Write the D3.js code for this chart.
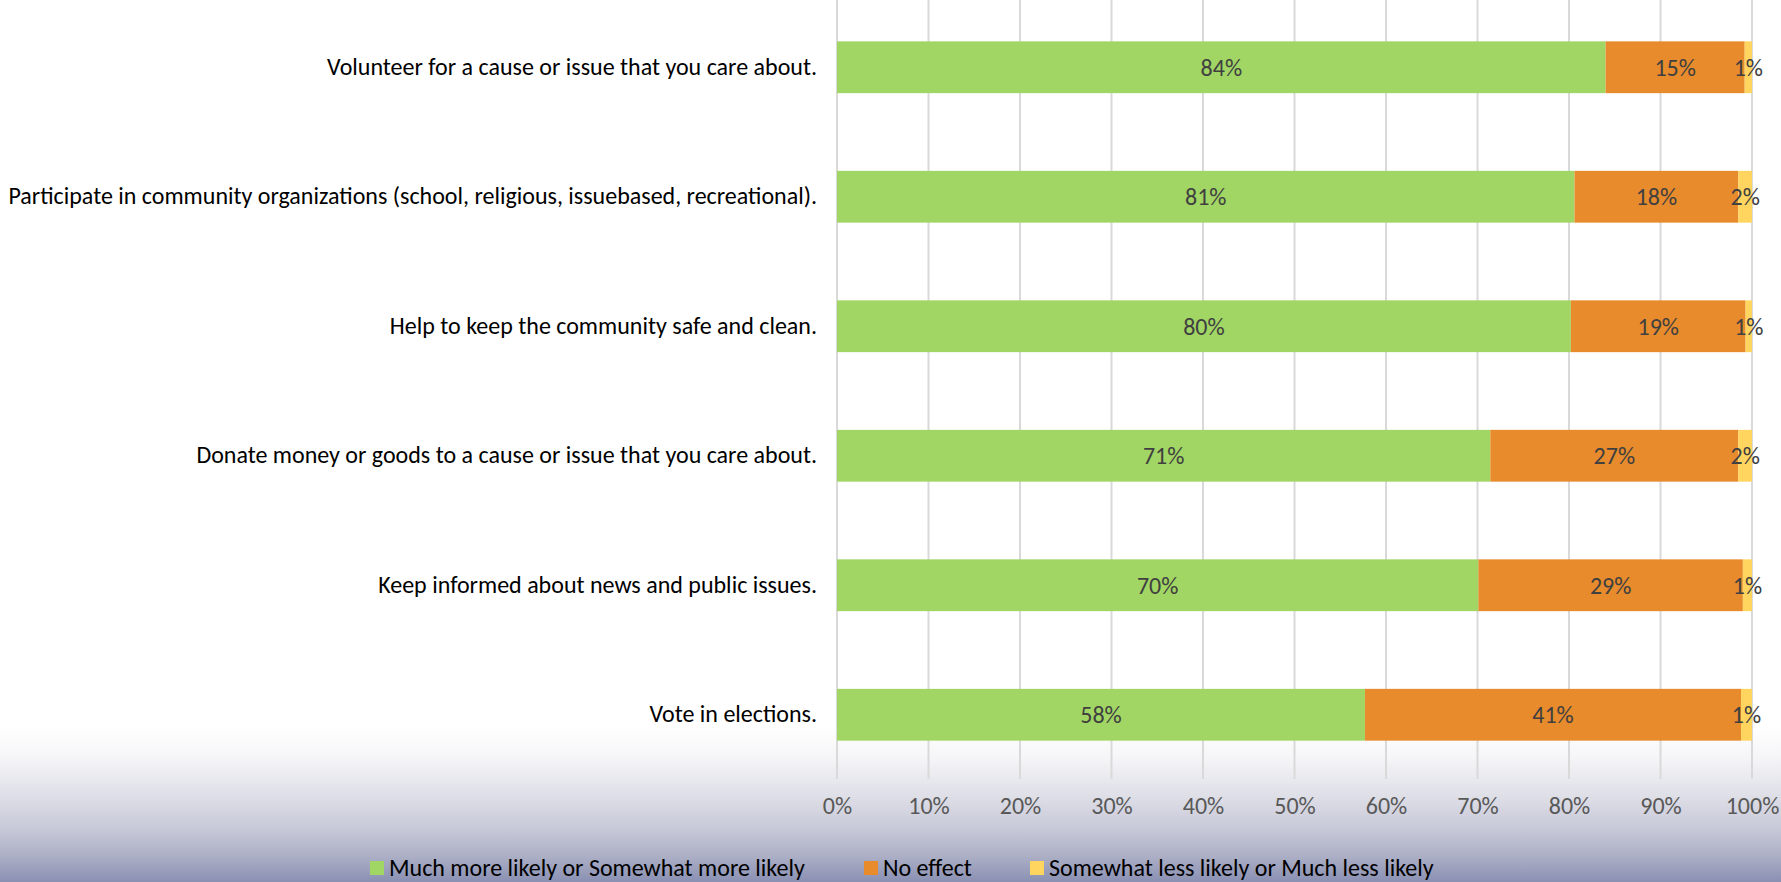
<!DOCTYPE html>
<html><head><meta charset="utf-8">
<script src="https://cdn.jsdelivr.net/npm/d3@7"></script>
<style>html,body{margin:0;padding:0;background:#fff;}svg{display:block;}</style>
</head><body>
<svg id="chart" width="1781" height="882"></svg>
<script>
const categories = [
  "Volunteer for a cause or issue that you care about.",
  "Participate in community organizations (school, religious, issuebased, recreational).",
  "Help to keep the community safe and clean.",
  "Donate money or goods to a cause or issue that you care about.",
  "Keep informed about news and public issues.",
  "Vote in elections."
];
const seriesNames = ["Much more likely or Somewhat more likely", "No effect", "Somewhat less likely or Much less likely"];
const moreLikely = [84.0, 80.6, 80.2, 71.4, 70.1, 57.7];
const noEffect   = [15.2, 17.9, 19.1, 27.1, 28.9, 41.1];
const lessLikely = [0.8, 1.5, 0.7, 1.5, 1.0, 1.2];
const tickValues = [0,10,20,30,40,50,60,70,80,90,100];
const colors = ["#A1D664", "#E88B2C", "#FFD55F"];

const FONT = "Carlito, Calibri, Lato, 'Noto Sans', sans-serif";
const FS = "24px";
const svg = d3.select("#chart");
const W = 1781, H = 882;

// background gradient
const defs = svg.append("defs");
const g = defs.append("linearGradient").attr("id","bg").attr("x1",0).attr("y1",0).attr("x2",0).attr("y2",1);
[[0,"#ffffff"],[0.2,"#f6f6f8"],[0.42,"#e1e2e9"],[0.65,"#c9cad9"],[0.82,"#afb2c7"],[1,"#8a90b3"]].forEach(s=>g.append("stop").attr("offset",s[0]).attr("stop-color",s[1]));
svg.append("rect").attr("width",W).attr("height",H).attr("fill","#fff");
svg.append("rect").attr("x",0).attr("y",725).attr("width",W).attr("height",H-725).attr("fill","url(#bg)");

const x = d3.scaleLinear().domain([0,100]).range([837,1752]);
const y = d3.scaleBand().domain(categories).range([2.5,779.5]).paddingInner(0.6).paddingOuter(0.3);

// gridlines
svg.append("g").selectAll("line").data(tickValues).join("line")
  .attr("x1",d=>x(d)).attr("x2",d=>x(d)).attr("y1",0).attr("y2",779)
  .attr("stroke","#d9d9d9").attr("stroke-width",2);

// tick labels via axis
const ax = svg.append("g").attr("transform","translate(0,797)")
  .call(d3.axisBottom(x).tickValues(tickValues).tickFormat(d=>d+"%").tickSize(0).tickPadding(0));
ax.select(".domain").remove();
ax.selectAll("text").attr("fill","#595959").style("font-family",FONT).style("font-size",FS);

// category labels
const yax = svg.append("g").attr("transform","translate(837,0)")
  .call(d3.axisLeft(y).tickSize(0).tickPadding(20));
yax.select(".domain").remove();
yax.selectAll("text").attr("fill","#000").style("font-family",FONT).style("font-size",FS);

const stackData = categories.map((c,i)=>({cat:c, a:moreLikely[i], b:noEffect[i], c:lessLikely[i]}));
const stack = d3.stack().keys(["a","b","c"])(stackData);

const layers = svg.append("g").selectAll("g").data(stack).join("g").attr("fill",(d,i)=>colors[i]);
layers.selectAll("rect").data(d=>d).join("rect")
  .attr("x",d=>x(d[0])).attr("width",d=>x(d[1])-x(d[0]))
  .attr("y",d=>y(d.data.cat)).attr("height",y.bandwidth());

const labels = svg.append("g");
stack.forEach((layer)=>{
  labels.selectAll(null).data(layer).join("text")
    .attr("x",d=>(x(d[0])+x(d[1]))/2)
    .attr("y",d=>y(d.data.cat)+y.bandwidth()/2)
    .attr("dy","0.35em").attr("text-anchor","middle")
    .attr("fill","#404040").style("font-family",FONT).style("font-size",FS)
    .text(d=>Math.round(d[1]-d[0])+"%");
});

// legend
const legX = [370, 864, 1030];
const leg = svg.append("g");
seriesNames.forEach((n,i)=>{
  leg.append("rect").attr("x",legX[i]).attr("y",861).attr("width",14).attr("height",14).attr("fill",colors[i]);
  leg.append("text").attr("x",legX[i]+19).attr("y",876)
    .attr("fill","#000").style("font-family",FONT).style("font-size",FS).text(n);
});
</script>
</body></html>
